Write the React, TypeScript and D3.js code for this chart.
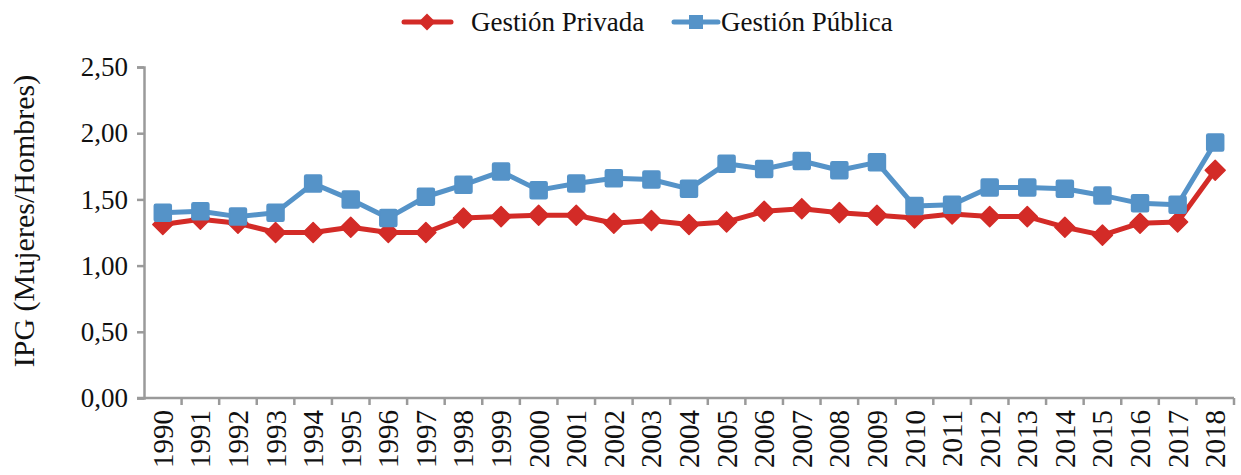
import { useRef, useEffect } from 'react';
import * as d3 from 'd3';

const YEARS = ['1990','1991','1992','1993','1994','1995','1996','1997','1998','1999','2000','2001','2002','2003','2004','2005','2006','2007','2008','2009','2010','2011','2012','2013','2014','2015','2016','2017','2018'];
const PRIVADA = [1.31,1.35,1.32,1.25,1.25,1.29,1.25,1.25,1.36,1.37,1.38,1.38,1.32,1.34,1.31,1.33,1.41,1.43,1.40,1.38,1.36,1.39,1.37,1.37,1.29,1.23,1.32,1.33,1.72];
const PUBLICA = [1.40,1.41,1.37,1.40,1.62,1.50,1.36,1.52,1.61,1.71,1.57,1.62,1.66,1.65,1.58,1.77,1.73,1.79,1.72,1.78,1.45,1.46,1.59,1.59,1.58,1.53,1.47,1.46,1.93];
const Y_TICKS = [0, 0.5, 1, 1.5, 2, 2.5];

const RED = '#d32b27';
const BLUE = '#5593c8';
const AXIS = '#9a9a9a';
const FONT = '"Liberation Serif", "DejaVu Serif", serif';

const fmt = (v: number) => v.toFixed(2).replace('.', ',');

export default function App() {
  const ref = useRef<SVGSVGElement>(null);

  useEffect(() => {
    const width = 1241, height = 475;
    const margin = { top: 67, right: 7, bottom: 77, left: 144 };
    const innerW = width - margin.left - margin.right;
    const innerH = height - margin.top - margin.bottom;
    const svg = d3.select(ref.current);
    svg.selectAll('*').remove();
    svg.attr('viewBox', `0 0 ${width} ${height}`);

    const x = d3.scaleBand().domain(YEARS).range([0, innerW]).padding(0);
    const y = d3.scaleLinear().domain([0, 2.5]).range([innerH, 0]);
    const cx = (d: string) => (x(d) as number) + x.bandwidth() / 2;

    const g = svg.append('g').attr('transform', `translate(${margin.left},${margin.top})`);

    // Y axis
    g.append('g')
      .call(d3.axisLeft(y).tickValues(Y_TICKS).tickSize(7).tickPadding(9).tickFormat(d => fmt(+d)))
      .call(a => a.select('.domain').attr('stroke', AXIS).attr('stroke-width', 2.5))
      .call(a => a.selectAll('.tick line').attr('stroke', AXIS).attr('stroke-width', 2.5))
      .selectAll('text').attr('font-size', 27).attr('font-family', FONT).attr('fill', '#111');

    // X axis with ticks between categories
    const xa = g.append('g').attr('transform', `translate(0,${innerH})`);
    xa.append('line').attr('x1', -7).attr('x2', innerW).attr('y1', 0).attr('y2', 0)
      .attr('stroke', AXIS).attr('stroke-width', 2.5);
    xa.selectAll('line.tk').data(YEARS).join('line').attr('class', 'tk')
      .attr('x1', d => (x(d) as number) + x.bandwidth()).attr('x2', d => (x(d) as number) + x.bandwidth())
      .attr('y1', 0).attr('y2', 7).attr('stroke', AXIS).attr('stroke-width', 2.5);
    xa.selectAll('text').data(YEARS).join('text')
      .attr('transform', d => `translate(${cx(d) + 10},12) rotate(-90)`)
      .attr('text-anchor', 'end').attr('font-size', 29).attr('font-family', FONT).attr('fill', '#111')
      .text(d => d);

    // Axis title
    svg.append('text')
      .attr('transform', `translate(34,${margin.top + 154}) rotate(-90)`)
      .attr('text-anchor', 'middle').attr('font-size', 30).attr('font-family', FONT).attr('fill', '#111')
      .text('IPG (Mujeres/Hombres)');

    const line = d3.line<number>().x((_, i) => cx(YEARS[i])).y(d => y(d));
    const diamond = 'M0,-10L10,0L0,10L-10,0Z';

    // Gestión Privada
    g.append('path').datum(PRIVADA).attr('d', line).attr('fill', 'none')
      .attr('stroke', RED).attr('stroke-width', 5).attr('stroke-linejoin', 'round');
    g.selectAll('path.dia').data(PRIVADA).join('path').attr('class', 'dia')
      .attr('transform', (d, i) => `translate(${cx(YEARS[i])},${y(d)})`)
      .attr('d', diamond).attr('fill', RED).attr('stroke', RED).attr('stroke-width', 1.5).attr('stroke-linejoin', 'round');

    // Gestión Pública
    g.append('path').datum(PUBLICA).attr('d', line).attr('fill', 'none')
      .attr('stroke', BLUE).attr('stroke-width', 5).attr('stroke-linejoin', 'round');
    g.selectAll('rect.sq').data(PUBLICA).join('rect').attr('class', 'sq')
      .attr('x', (d, i) => cx(YEARS[i]) - 8.5).attr('y', d => y(d) - 8.5)
      .attr('width', 17).attr('height', 17).attr('rx', 1.5)
      .attr('fill', BLUE).attr('stroke', BLUE).attr('stroke-width', 1.5);

    // Legend
    const lg = svg.append('g');
    lg.append('line').attr('x1', 404).attr('x2', 451).attr('y1', 22).attr('y2', 22)
      .attr('stroke', RED).attr('stroke-width', 5).attr('stroke-linecap', 'round');
    lg.append('path').attr('transform', 'translate(427,22) scale(0.85)').attr('d', diamond).attr('fill', RED);
    lg.append('text').attr('x', 471).attr('y', 31).attr('font-size', 27).attr('font-family', FONT).attr('fill', '#111')
      .text('Gestión Privada');
    lg.append('line').attr('x1', 674).attr('x2', 718).attr('y1', 22).attr('y2', 22)
      .attr('stroke', BLUE).attr('stroke-width', 5).attr('stroke-linecap', 'round');
    lg.append('rect').attr('x', 689).attr('y', 15).attr('width', 14).attr('height', 14).attr('fill', BLUE);
    lg.append('text').attr('x', 721).attr('y', 31).attr('font-size', 27).attr('font-family', FONT).attr('fill', '#111')
      .text('Gestión Pública');
  }, []);

  return <svg ref={ref} width={1241} height={475} style={{ display: 'block', position: 'absolute', left: 0, top: 0 }} />;
}
